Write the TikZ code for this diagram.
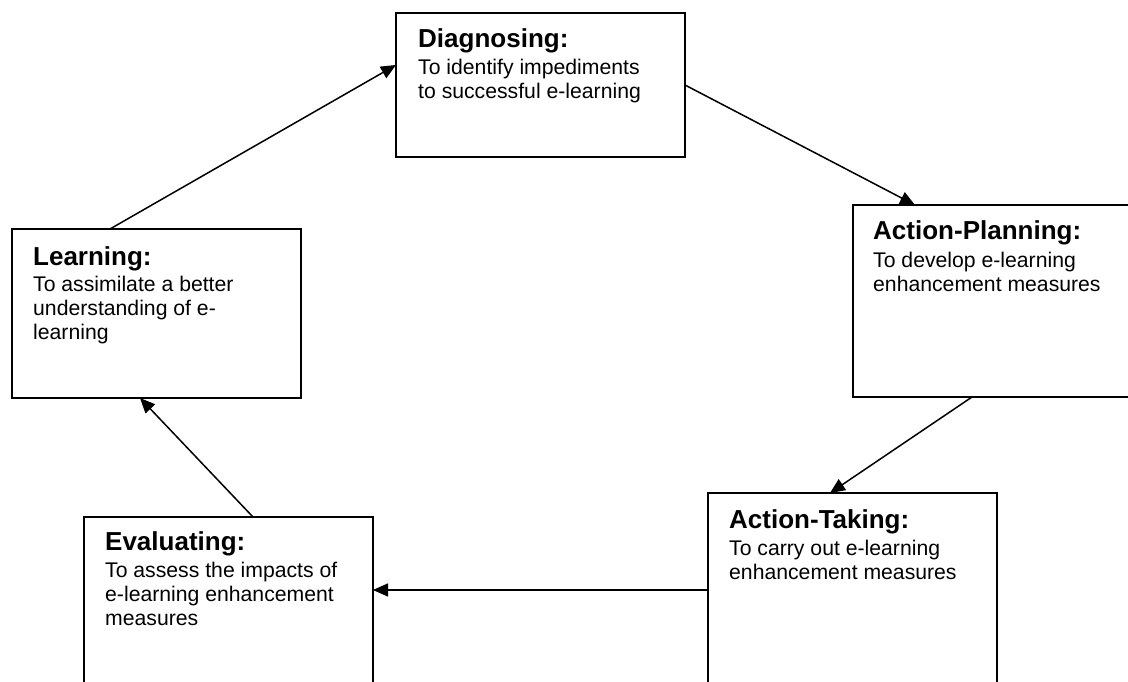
\documentclass[tikz,border=0pt]{standalone}
\usepackage{fontspec}
\setmainfont{Liberation Sans}
\usetikzlibrary{arrows.meta}
\begin{document}
\begin{tikzpicture}[x=1pt,y=-1pt,
  box/.style={draw, line width=2pt, rectangle, minimum width=289pt, anchor=north west, inner sep=0pt, outer sep=0pt},
  ttl/.style={anchor=base west, inner sep=0pt, font=\fontsize{26}{30}\selectfont\bfseries},
  bdy/.style={anchor=base west, inner sep=0pt, align=left, font=\fontsize{21.2}{24}\selectfont},
  conn/.style={line width=1.5pt, -{Triangle[length=15pt,width=13pt]}}]
\useasboundingbox (0,0) rectangle (1128,682);
% boxes
\node[box, minimum height=144pt] (diag) at (396,13) {};
\node[box, minimum height=192pt] (plan) at (853,205) {};
\node[box, minimum height=250pt] (take) at (708,493) {};
\node[box, minimum height=250pt] (eval) at (84,517) {};
\node[box, minimum height=169pt] (learn) at (12,229) {};
% texts (body anchor = baseline of its last line)
\node[ttl] (diagT) at ([shift={(22pt,-35pt)}]diag.north west) {Diagnosing:};
\node[bdy] (diagB) at ([yshift=-51pt]diagT.base west) {To identify impediments\\to successful e-learning};
\node[ttl] (planT) at ([shift={(20pt,-35pt)}]plan.north west) {Action-Planning:};
\node[bdy] (planB) at ([yshift=-51pt]planT.base west) {To develop e-learning\\enhancement measures};
\node[ttl] (takeT) at ([shift={(21pt,-35pt)}]take.north west) {Action-Taking:};
\node[bdy] (takeB) at ([yshift=-51pt]takeT.base west) {To carry out e-learning\\enhancement measures};
\node[ttl] (evalT) at ([shift={(21pt,-33pt)}]eval.north west) {Evaluating:};
\node[bdy] (evalB) at ([yshift=-75pt]evalT.base west) {To assess the impacts of\\e-learning enhancement\\measures};
\node[ttl] (learnT) at ([shift={(21pt,-36pt)}]learn.north west) {Learning:};
\node[bdy] (learnB) at ([yshift=-74pt]learnT.base west) {To assimilate a better\\understanding of e-\\learning};
% connectors
\draw[conn] ([xshift=98pt]learn.north west) -- ([yshift=-52pt]diag.north west);
\draw[conn] ([yshift=-72pt]diag.north east) -- ([xshift=62pt]plan.north west);
\draw[conn] ([xshift=119pt]plan.south west) -- ([xshift=122pt]take.north west);
\draw[conn] ([yshift=-97pt]take.north west) -- ([yshift=-73pt]eval.north east);
\draw[conn] ([xshift=169pt]eval.north west) -- ([xshift=128pt]learn.south west);
\end{tikzpicture}
\end{document}
